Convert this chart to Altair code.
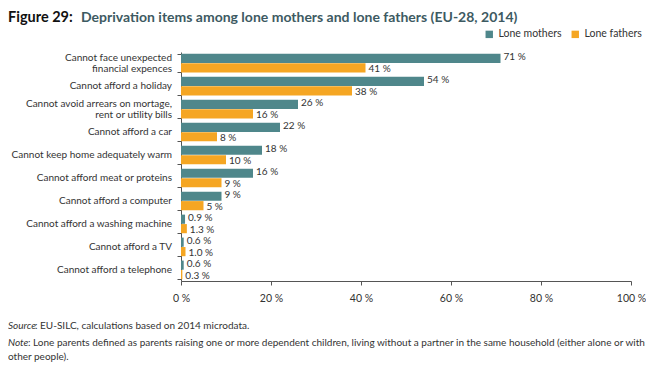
import altair as alt
import pandas as pd

items = [
    "Cannot face unexpected|financial expences",
    "Cannot afford a holiday",
    "Cannot avoid arrears on mortage,|rent or utility bills",
    "Cannot afford a car",
    "Cannot keep home adequately warm",
    "Cannot afford meat or proteins",
    "Cannot afford a computer",
    "Cannot afford a washing machine",
    "Cannot afford a TV",
    "Cannot afford a telephone",
]
groups = ["Lone mothers", "Lone fathers"]
mothers = [71, 54, 26, 22, 18, 16, 9, 0.9, 0.6, 0.6]
fathers = [41, 38, 16, 8, 10, 9, 5, 1.3, 1.0, 0.3]
colors = ["#4f878b", "#f5a623"]
x_ticks = [0, 20, 40, 60, 80, 100]

rows = []
for it, m, f in zip(items, mothers, fathers):
    rows.append({"item": it, "group": groups[0], "value": m})
    rows.append({"item": it, "group": groups[1], "value": f})
df = pd.DataFrame(rows)
cat_df = pd.DataFrame({"item": items})

FONT = "Lato"
TXT = "#333333"

y_scale = alt.Scale(paddingInner=0.19, paddingOuter=0.08)
y_enc = alt.Y(
    "item:N",
    sort=items,
    scale=y_scale,
    axis=alt.Axis(
        title=None,
        labels=False,
        tickBand="extent",
        tickSize=4,
        domainColor="#555555",
        tickColor="#555555",
    ),
)
yoff = alt.YOffset("group:N", sort=groups, scale=alt.Scale(paddingInner=0.03))
x_enc = alt.X(
    "value:Q",
    scale=alt.Scale(domain=[0, 100]),
    axis=alt.Axis(
        title=None,
        values=x_ticks,
        grid=False,
        labelExpr="datum.value + ' %'",
        tickSize=4,
        labelPadding=8,
        labelFontSize=10.5,
        labelFont=FONT,
        labelColor=TXT,
        domainColor="#555555",
        tickColor="#555555",
        labelFlush=False,
    ),
)

base = alt.Chart(df).transform_calculate(
    label="datum.value < 2 ? format(datum.value, '.1f') + ' %' : format(datum.value, '.0f') + ' %'"
)

bars = base.mark_bar().encode(
    y=y_enc,
    yOffset=yoff,
    x=x_enc,
    color=alt.Color(
        "group:N",
        sort=groups,
        scale=alt.Scale(domain=groups, range=colors),
        legend=alt.Legend(
            title=None,
            orient="none",
            legendX=303,
            legendY=-23,
            direction="horizontal",
            symbolType="square",
            symbolSize=55,
            symbolStrokeWidth=0,
            labelFont=FONT,
            labelFontSize=10.5,
            labelColor=TXT,
            columnPadding=8,
        ),
    ),
)

lab_m = base.transform_filter(f"datum.group == '{groups[0]}'").mark_text(
    align="left", baseline="middle", dx=3, dy=-1, font=FONT, fontSize=10, color=TXT
).encode(y=alt.Y("item:N", sort=items), yOffset=yoff, x="value:Q", text="label:N")
lab_f = base.transform_filter(f"datum.group == '{groups[1]}'").mark_text(
    align="left", baseline="middle", dx=3, dy=1, font=FONT, fontSize=10, color=TXT
).encode(y=alt.Y("item:N", sort=items), yOffset=yoff, x="value:Q", text="label:N")

cat_base = alt.Chart(cat_df).transform_calculate(
    multi="indexof(datum.item, '|') >= 0 ? 1 : 0",
    lines="split(datum.item, '|')",
)
cat_single = cat_base.transform_filter("datum.multi == 0").mark_text(
    align="right", baseline="middle", font=FONT, fontSize=10, color=TXT
).encode(y=alt.Y("item:N", sort=items), x=alt.value(-9), text="lines:N")
cat_multi = cat_base.transform_filter("datum.multi == 1").mark_text(
    align="right", baseline="middle", font=FONT, fontSize=10, color=TXT, dy=-5.5, lineHeight=11.5
).encode(y=alt.Y("item:N", sort=items), x=alt.value(-9), text="lines:N")

one = pd.DataFrame({"a": [0]})


def txt(text, x, y, **kw):
    return alt.Chart(one).mark_text(
        align="left", baseline="alphabetic", font=FONT, **kw
    ).encode(x=alt.value(x), y=alt.value(y), text=alt.value(text))


t1 = txt("Figure 29:", -173, -30, fontSize=14.5, fontWeight="bold", color="#111111")
t2 = txt("Deprivation items among lone mothers and lone fathers (EU-28, 2014)", -100, -30,
         fontSize=14, fontWeight="bold", color="#3d5a62")
s1 = txt("Source", -173, 277, fontSize=10, fontStyle="italic", color=TXT)
s2 = txt(": EU-SILC, calculations based on 2014 microdata.", -146, 277, fontSize=10, color=TXT)
n1 = txt("Note", -173, 294, fontSize=10, fontStyle="italic", color=TXT)
n2 = txt(": Lone parents defined as parents raising one or more dependent children, living without a partner in the same household (either alone or with",
         -153, 294, fontSize=10, color=TXT)
n3 = txt("other people).", -173, 308, fontSize=10, color=TXT)

chart = alt.layer(bars, lab_m, lab_f, cat_single, cat_multi, t1, t2, s1, s2, n1, n2, n3).properties(
    width=450,
    height=229,
    autosize=alt.AutoSizeParams(type="none"),
    padding={"left": 173, "top": 44, "right": 15, "bottom": 82},
).configure_view(stroke=None)

chart.save("out.html", embed_options={"renderer": "svg", "actions": False})
